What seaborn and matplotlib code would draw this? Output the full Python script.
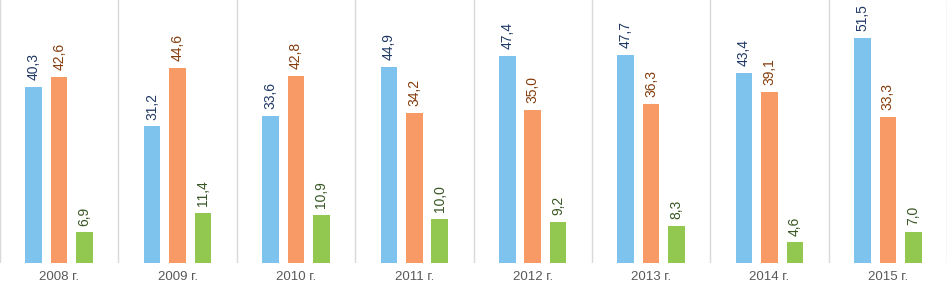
import matplotlib
matplotlib.use("Agg")
import matplotlib.pyplot as plt
import seaborn as sns
import pandas as pd

years = ["2008 г.", "2009 г.", "2010 г.", "2011 г.", "2012 г.", "2013 г.", "2014 г.", "2015 г."]
series_names = ["A", "B", "C"]
vals_a = [40.3, 31.2, 33.6, 44.9, 47.4, 47.7, 43.4, 51.5]
vals_b = [42.6, 44.6, 42.8, 34.2, 35.0, 36.3, 39.1, 33.3]
vals_c = [6.9, 11.4, 10.9, 10.0, 9.2, 8.3, 4.6, 7.0]

bar_colors = ["#7DC3EE", "#F79A65", "#92C84F"]
label_colors = ["#1F3864", "#843C0C", "#375623"]

rows = []
for name, vals in zip(series_names, [vals_a, vals_b, vals_c]):
    for y, v in zip(years, vals):
        rows.append({"year": y, "series": name, "value": v})
df = pd.DataFrame(rows)

sns.set_theme(style="white")
plt.rcParams["font.family"] = ["Liberation Sans", "DejaVu Sans"]

fig = plt.figure(figsize=(9.47, 2.86), dpi=100)
ax = fig.add_axes([0.0, 0.082, 1.0, 0.918])

sns.barplot(data=df, x="year", y="value", hue="series", order=years,
            hue_order=series_names, palette=bar_colors, width=0.645, gap=0.35,
            legend=False, ax=ax, saturation=1, edgecolor="none")

for cont, col in zip(ax.containers, label_colors):
    ax.bar_label(cont, labels=[f"{v:.1f}".replace(".", ",") for v in cont.datavalues],
                 rotation=90, padding=5, fontsize=10, color=col)

ax.set_ylim(0, 60.2)
ax.set_xlim(-0.5, len(years) - 0.5)
for b in range(len(years) + 1):
    ax.axvline(b - 0.5, color="#D9D9D9", lw=1, zorder=0)

ax.set_yticks([])
ax.set_xlabel("")
ax.set_ylabel("")
ax.tick_params(axis="x", length=0, labelsize=9.5, labelcolor="#595959", pad=6)
for s in ax.spines.values():
    s.set_visible(False)

fig.savefig("out.png", dpi=100)
